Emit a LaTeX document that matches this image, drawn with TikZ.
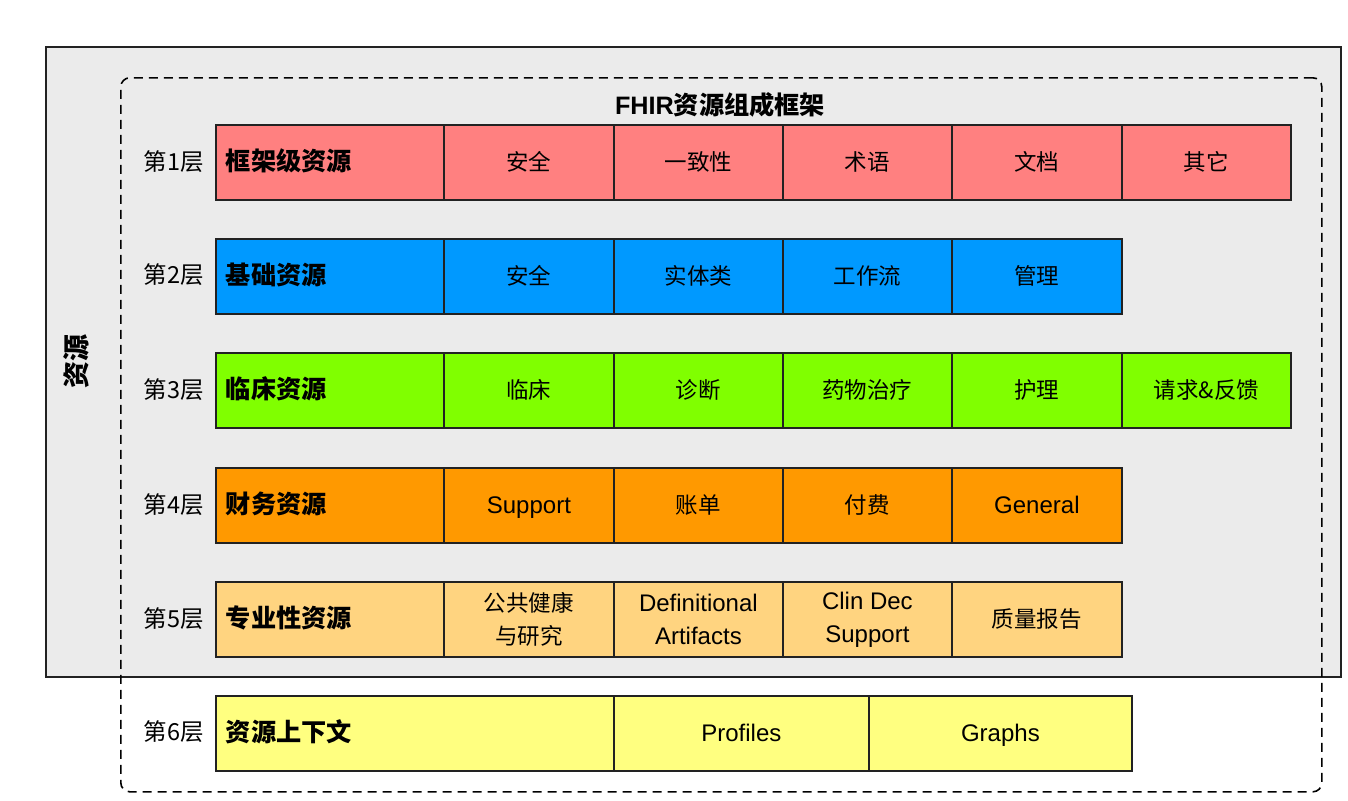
\documentclass[tikz,border=0pt]{standalone}
\usepackage{fontspec}
\setmainfont{Liberation Sans}
\newfontfamily\cjk{Noto Sans CJK SC}
\newcommand{\lat}{\fontspec{Liberation Sans}\fontsize{24}{33}\selectfont}
\definecolor{bgg}{HTML}{EBEBEB}
\definecolor{edge}{HTML}{222222}
\definecolor{cA}{HTML}{FF8080}
\definecolor{cB}{HTML}{0099FF}
\definecolor{cC}{HTML}{80FF00}
\definecolor{cD}{HTML}{FF9900}
\definecolor{cE}{HTML}{FFD480}
\definecolor{cF}{HTML}{FFFF80}
\begin{document}
\begin{tikzpicture}[x=1pt,y=-1pt,
  cell/.style={draw=edge, line width=1.8pt, anchor=north west, minimum height=75pt, inner sep=0pt, align=center, text height=20pt, text depth=3pt, font=\fontsize{22.5}{33}\selectfont\cjk},
  two/.style={text height={}, text depth={}},
  headcell/.style={cell, text width=208pt, minimum width=228pt, align=left, font=\fontsize{25.2}{30}\selectfont\cjk\bfseries},
  layer/.style={font=\fontsize{23.5}{26}\selectfont\cjk, anchor=center}]
\useasboundingbox (0,0) rectangle (1348,800);
\node[draw=edge, line width=1.8pt, fill=bgg, anchor=north west, minimum width=1295pt, minimum height=630pt, inner sep=0pt] (outer) at (45,46) {};
\node[draw=black, line width=1.6pt, rounded corners=9pt, dash pattern=on 9pt off 6pt, anchor=north west, minimum width=1201pt, minimum height=714pt, inner sep=0pt] (frame) at (120,77) {};
\node[font=\fontsize{25.2}{30}\selectfont\bfseries] (title) at (720,105) {{\fontspec{Liberation Sans}\fontsize{25.2}{30}\selectfont\bfseries FHIR}{\cjk 资源组成框架}};
\node[font=\fontsize{27}{30}\selectfont\cjk\bfseries, rotate=90] (res) at (76,361) {资源};
% row 1
\node[layer] (l1) at (174,161.5) {第1层};
\node[headcell, fill=cA] (a0) at (215,124) {框架级资源};
\node[cell, fill=cA, minimum width=170pt] (a1) at (443,124) {安全};
\node[cell, fill=cA, minimum width=169pt] (a2) at (613,124) {一致性};
\node[cell, fill=cA, minimum width=169pt] (a3) at (782,124) {术语};
\node[cell, fill=cA, minimum width=170pt] (a4) at (951,124) {文档};
\node[cell, fill=cA, minimum width=169pt] (a5) at (1121,124) {其它};
% row 2
\node[layer] (l2) at (174,275) {第2层};
\node[headcell, fill=cB] (b0) at (215,238) {基础资源};
\node[cell, fill=cB, minimum width=170pt] (b1) at (443,238) {安全};
\node[cell, fill=cB, minimum width=169pt] (b2) at (613,238) {实体类};
\node[cell, fill=cB, minimum width=169pt] (b3) at (782,238) {工作流};
\node[cell, fill=cB, minimum width=170pt] (b4) at (951,238) {管理};
% row 3
\node[layer] (l3) at (174,389.5) {第3层};
\node[headcell, fill=cC] (c0) at (215,352) {临床资源};
\node[cell, fill=cC, minimum width=170pt] (c1) at (443,352) {临床};
\node[cell, fill=cC, minimum width=169pt] (c2) at (613,352) {诊断};
\node[cell, fill=cC, minimum width=169pt] (c3) at (782,352) {药物治疗};
\node[cell, fill=cC, minimum width=170pt] (c4) at (951,352) {护理};
\node[cell, fill=cC, minimum width=169pt] (c5) at (1121,352) {请求\&反馈};
% row 4
\node[layer] (l4) at (174,504.5) {第4层};
\node[headcell, fill=cD] (d0) at (215,467) {财务资源};
\node[cell, fill=cD, minimum width=170pt] (d1) at (443,467) {\lat Support};
\node[cell, fill=cD, minimum width=169pt] (d2) at (613,467) {账单};
\node[cell, fill=cD, minimum width=169pt] (d3) at (782,467) {付费};
\node[cell, fill=cD, minimum width=170pt] (d4) at (951,467) {\lat General};
% row 5
\node[layer] (l5) at (174,618.5) {第5层};
\node[headcell, fill=cE] (e0) at (215,581) {专业性资源};
\node[cell, two, fill=cE, minimum width=170pt] (e1) at (443,581) {公共健康\\与研究};
\node[cell, two, fill=cE, minimum width=169pt] (e2) at (613,581) {\lat Definitional\\\lat Artifacts};
\node[cell, two, fill=cE, minimum width=169pt] (e3) at (782,581) {\lat Clin Dec\\\lat Support};
\node[cell, fill=cE, minimum width=170pt] (e4) at (951,581) {质量报告};
% row 6
\node[layer] (l6) at (174,732) {第6层};
\node[headcell, fill=cF, text width=378pt, minimum width=398pt] (f0) at (215,695) {资源上下文};
\node[cell, fill=cF, minimum width=255pt] (f1) at (613,695) {\lat Profiles};
\node[cell, fill=cF, minimum width=263pt] (f2) at (868,695) {\lat Graphs};
\end{tikzpicture}
\end{document}
